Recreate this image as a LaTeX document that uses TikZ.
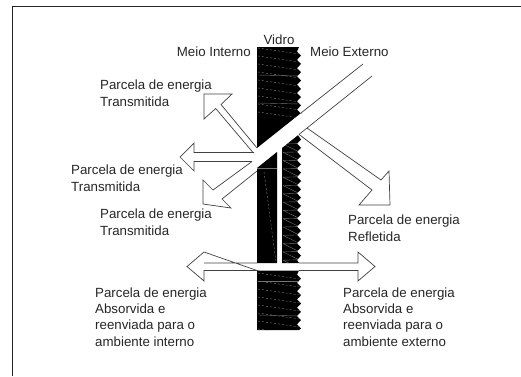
\documentclass[tikz,border=0pt]{standalone}
\usepackage{fontspec}
\setmainfont{Liberation Sans}
\begin{document}
\begin{tikzpicture}[x=1pt,y=-1pt,
  outl/.style={draw=black!75, line width=0.7pt, line join=miter},
  lbl/.style={font=\fontsize{13.3}{16.3}\selectfont, inner sep=0pt, align=left, text=black!85},
  texw/.style={draw=black!50, line width=0.4pt, dash pattern=on 2pt off 2pt},
  texg/.style={draw=black!55, line width=0.4pt},
  frameline/.style={draw=black!85, line width=0.9pt}]
\useasboundingbox (0,0) rectangle (521,376);
% frame
\draw[frameline] (12,376) -- (12,6) -- (521,6);

% ---------- glass (Vidro) ----------
% upper piece
\begin{scope}
\clip (257,47) -- (299,47) \foreach \k in {0,...,7} {-- (297,{51.5+8.3*\k}) -- (301,{55.6+8.3*\k})} -- (301,113) -- (257,148) -- cycle;
\fill[black] (250,40) rectangle (310,160);
\foreach \k in {0,...,8} \draw[texw] (258,{48+8*\k}) -- (300,{54+8*\k});
\draw[texg] (258,75) -- (300,76);
\draw[texg] (258,103) -- (300,104);
\end{scope}
% lower left piece
\begin{scope}
\clip (257,168) -- (277,152) -- (277,263) -- (257,263) -- cycle;
\fill[black] (250,140) rectangle (285,270);
\draw[texg] (257,168) -- (277,168);
\draw[texw] (264,172) -- (276,262);
\end{scope}
% lower right piece
\begin{scope}
\clip (282,148) -- (298,135.2) \foreach \k in {0,...,14} {-- (301,{139.5+8.3*\k}) -- (297,{143.6+8.3*\k})} -- (299,263) -- (282,263) -- cycle;
\fill[black] (278,130) rectangle (310,270);
\foreach \k in {0,...,14} {\draw[texg] (283,{144+8.3*\k}) -- (299,{143.6+8.3*\k}); \draw[texg] (283,{144+8.3*\k}) -- (299,{151.9+8.3*\k});}
\end{scope}
% bottom piece
\begin{scope}
\clip (257,270.5) -- (299,270.5) \foreach \k in {0,...,6} {-- (297,{274.5+8.3*\k}) -- (301,{278.6+8.3*\k})} -- (299,330) -- (257,330) -- cycle;
\fill[black] (250,265) rectangle (310,335);
\foreach \k in {0,...,7} \draw[texw] (258,{273+8*\k}) -- (300,{279+8*\k});
\draw[texg] (258,281) -- (300,281);
\draw[texg] (258,315) -- (300,316);
\end{scope}

% ---------- arrows ----------
% incident ray (upper part)
\draw[outl] (363,64) -- (301,113);
\draw[outl] (372,76) -- (299,134.4);
% reflected
\draw[outl] (307,128) -- (381,180) -- (389,171) -- (390,205) -- (359,205) -- (372,190) -- (299,134.4);
% transmitted, up-left
\draw[outl] (257,148) -- (221,104.5) -- (232,94) -- (204,94) -- (204,119) -- (215.7,108.5) -- (253,152.5);
% transmitted, left
\draw[outl] (254,152.5) -- (194,152.5) -- (194,143) -- (180,157) -- (194,171) -- (194,161.5) -- (252,161.5);
% transmitted, down-left (exiting ray)
\draw[outl] (252,161.5) -- (213,190) -- (203,180) -- (203,204) -- (231,208) -- (222,199) -- (257,171);
% absorbed and re-emitted (double arrow)
\draw[outl] (204,263) -- (257,263) (299,263) -- (358,263) -- (358,252) -- (375,266.5) -- (358,281) -- (358,270.5) -- (299,270.5)
  (257,270.5) -- (204,270.5) -- (204,281) -- (187,266.5) -- (204,252) -- cycle;

% ---------- labels (base = baseline of the last line) ----------
\node[lbl, anchor=base] (vidro) at (279,44) {Vidro};
\node[lbl, anchor=base east] (mint) at (251,56) {Meio Interno};
\node[lbl, anchor=base west] (mext) at (310,56) {Meio Externo};
\node[lbl, anchor=base west] (t1) at (100,106) {Parcela de energia\\Transmitida};
\node[lbl, anchor=base west] (t2) at (71,191) {Parcela de energia\\Transmitida};
\node[lbl, anchor=base west] (t3) at (100,235) {Parcela de energia\\Transmitida};
\node[lbl, anchor=base west] (refl) at (348,241) {Parcela de energia\\Refletida};
\node[lbl, anchor=base west] (absi) at (95,346) {Parcela de energia\\Absorvida e\\reenviada para o\\ambiente interno};
\node[lbl, anchor=base west] (abse) at (343,346) {Parcela de energia\\Absorvida e\\reenviada para o\\ambiente externo};
\end{tikzpicture}
\end{document}
